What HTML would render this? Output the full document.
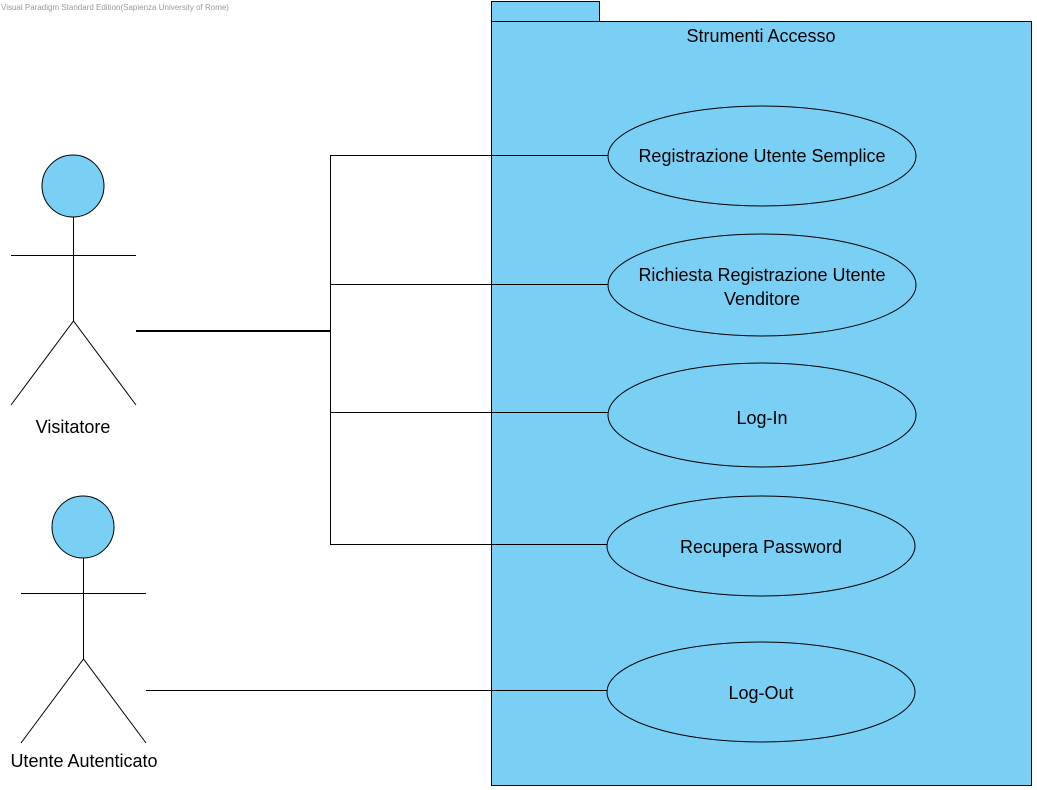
<!DOCTYPE html>
<html><head><meta charset="utf-8"><style>
html,body{margin:0;padding:0;background:#fff;width:1037px;height:790px;overflow:hidden}
svg{display:block}
text{font-family:"Liberation Sans",sans-serif;fill:#000}
</style></head><body>
<svg width="1037" height="790" viewBox="0 0 1037 790" xmlns="http://www.w3.org/2000/svg">
<text x="1" y="10" font-size="8" style="fill:#999">Visual Paradigm Standard Edition(Sapienza University of Rome)</text>
<g fill="#7ACFF5" stroke="#000" stroke-width="1">
<rect x="491.5" y="1.5" width="108" height="20"/>
<rect x="491.5" y="21.5" width="540" height="764"/>
</g>
<text x="761" y="42" font-size="18" text-anchor="middle">Strumenti Accesso</text>
<g stroke="#000" fill="none">
<line x1="136" y1="331" x2="330" y2="331" stroke-width="2"/>
<line x1="330.5" y1="155" x2="330.5" y2="545"/>
<line x1="330" y1="155.5" x2="610" y2="155.5"/>
<line x1="330" y1="284.5" x2="610" y2="284.5"/>
<line x1="330" y1="412.5" x2="610" y2="412.5"/>
<line x1="330" y1="544.5" x2="610" y2="544.5"/>
<line x1="146" y1="690.5" x2="610" y2="690.5"/>
</g>
<g fill="#7ACFF5" stroke="#000">
<ellipse cx="762" cy="156" rx="154" ry="50"/>
<ellipse cx="762" cy="285" rx="154" ry="51"/>
<ellipse cx="762" cy="415" rx="154" ry="52"/>
<ellipse cx="761" cy="546" rx="154" ry="50"/>
<ellipse cx="761" cy="692" rx="154" ry="50"/>
</g>
<g font-size="18" text-anchor="middle">
<text x="762" y="162">Registrazione Utente Semplice</text>
<text x="762" y="281">Richiesta Registrazione Utente</text>
<text x="762" y="305">Venditore</text>
<text x="762" y="424">Log-In</text>
<text x="761" y="553">Recupera Password</text>
<text x="761" y="699">Log-Out</text>
</g>
<g stroke="#000" fill="none">
<circle cx="73" cy="186" r="31" fill="#7ACFF5"/>
<line x1="73.5" y1="217" x2="73.5" y2="321"/>
<line x1="11" y1="255.5" x2="136" y2="255.5"/>
<polyline points="11,405 73.5,321 136,405"/>
<circle cx="83" cy="527" r="31" fill="#7ACFF5"/>
<line x1="83.5" y1="558" x2="83.5" y2="659"/>
<line x1="21" y1="593.5" x2="146" y2="593.5"/>
<polyline points="21,743 83.5,659 146,743"/>
</g>
<g font-size="18" text-anchor="middle">
<text x="73" y="433">Visitatore</text>
<text x="84" y="767">Utente Autenticato</text>
</g>
</svg>
</body></html>
